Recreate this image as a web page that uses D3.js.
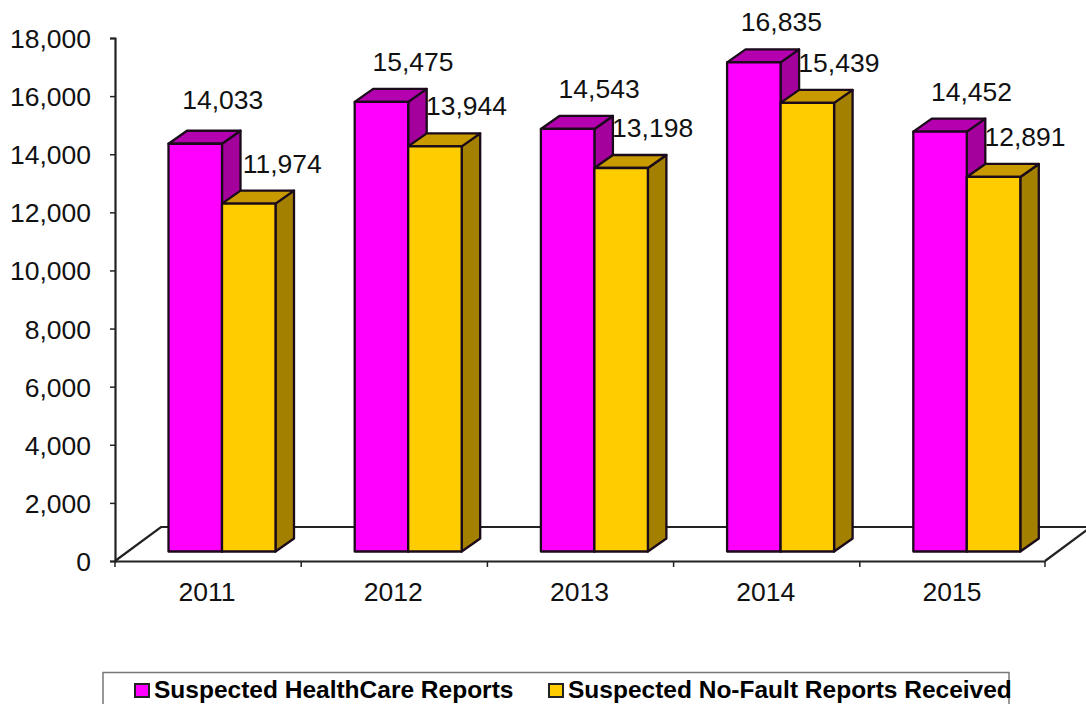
<!DOCTYPE html>
<html>
<head>
<meta charset="utf-8">
<script src="https://cdn.jsdelivr.net/npm/d3@7"></script>
<style>
    html, body { margin: 0; padding: 0; background: #fff; overflow: hidden; }
    text { font-family: "Liberation Sans", Arial, sans-serif; fill: #111; }
</style>
</head>
<body>
<svg id="chart" width="1086" height="704"></svg>
<script>
const years = ["2011", "2012", "2013", "2014", "2015"];
const healthCare = [14033, 15475, 14543, 16835, 14452];
const noFault = [11974, 13944, 13198, 15439, 12891];
const yTicks = [0, 2000, 4000, 6000, 8000, 10000, 12000, 14000, 16000, 18000];
const seriesNames = ["Suspected HealthCare Reports", "Suspected No-Fault Reports Received"];

const svg = d3.select("#chart");

//** SCALES *****************************************
const MARGIN = { LEFT: 115, RIGHT: 1045, TOP: 38, BOTTOM: 561 };
const DEPTH_X = 18.5, DEPTH_Y = 13;   // 3d offset of the bars
const FLOOR_X = 46, FLOOR_Y = 34;     // 3d offset of the floor
const BAR_INSET = 53.5, BAR_W = 53.5;
const FONT_SIZE = "26.5px";

const xScale = d3.scaleBand().domain(years).range([MARGIN.LEFT, MARGIN.RIGHT + 1]);
const yScale = d3.scaleLinear().domain([0, 18000]).range([MARGIN.BOTTOM, MARGIN.TOP]);

const colours = [
    { front: "#ff00ff", top: "#b400ae", side: "#a4009c" },
    { front: "#ffcc00", top: "#c89a00", side: "#a38000" }
];

// a few data labels were moved by hand in the original: [dx, dy] by "series-year index"
const labelShift = { "0-0": [-4, -4], "0-3": [-4, 0], "1-0": [2, 0] };

//** FLOOR *****************************************
svg.append("path")
    .attr("d", `M${MARGIN.LEFT},${MARGIN.BOTTOM} L${MARGIN.LEFT + FLOOR_X},${MARGIN.BOTTOM - FLOOR_Y} L1090,${MARGIN.BOTTOM - FLOOR_Y}`)
    .attr("fill", "none").attr("stroke", "#222").attr("stroke-width", 2.2);
svg.append("path")
    .attr("d", `M${MARGIN.RIGHT},${MARGIN.BOTTOM} L${MARGIN.RIGHT + FLOOR_X},${MARGIN.BOTTOM - FLOOR_Y}`)
    .attr("fill", "none").attr("stroke", "#222").attr("stroke-width", 2.2);

//** AXES *****************************************
const yAxis = d3.axisLeft(yScale).tickValues(yTicks).tickSize(5).tickPadding(19)
    .tickFormat(d3.format(","));
const yG = svg.append("g")
    .attr("transform", `translate(${MARGIN.LEFT},0)`)
    .call(yAxis);
yG.selectAll(".tick text").attr("x", -24).attr("y", 1);

const xAxis = d3.axisBottom(xScale).tickSize(0).tickPadding(21);
const xG = svg.append("g")
    .attr("transform", `translate(-1,${MARGIN.BOTTOM})`)
    .call(xAxis);

// tick marks sit between the categories
xG.selectAll(".edge")
    .data(years.concat("end"))
    .enter().append("line")
    .attr("class", "edge")
    .attr("x1", (d, i) => (i < years.length ? xScale(d) : MARGIN.RIGHT) + 1)
    .attr("x2", (d, i) => (i < years.length ? xScale(d) : MARGIN.RIGHT) + 1)
    .attr("y1", 0).attr("y2", 6)
    .attr("stroke", "#222").attr("stroke-width", 1.5);

[yG, xG].forEach(g => {
    g.selectAll("text").style("font-size", FONT_SIZE);
    g.select(".domain").attr("stroke", "#222").attr("stroke-width", 2.2);
});
yG.selectAll(".tick line").attr("stroke", "#222").attr("stroke-width", 1.5);

//** BARS *****************************************
const base = yScale(0) - 9.5;
const barHeight = v => yScale(0) - yScale(v);

function drawBar(x, v, c) {
    const top = base - barHeight(v);
    const g = svg.append("g")
        .attr("stroke", "#1a0a1a").attr("stroke-width", 2.3).attr("stroke-linejoin", "round");
    g.append("path").attr("fill", c.side)
        .attr("d", `M${x + BAR_W},${top} l${DEPTH_X},${-DEPTH_Y} V${base - DEPTH_Y} l${-DEPTH_X},${DEPTH_Y} Z`);
    g.append("path").attr("fill", c.top)
        .attr("d", `M${x},${top} l${DEPTH_X},${-DEPTH_Y} h${BAR_W} l${-DEPTH_X},${DEPTH_Y} Z`);
    g.append("rect").attr("fill", c.front)
        .attr("x", x).attr("y", top).attr("width", BAR_W).attr("height", base - top);
}

years.forEach((year, i) => {
    const x0 = xScale(year) + BAR_INSET;
    drawBar(x0, healthCare[i], colours[0]);
    drawBar(x0 + BAR_W, noFault[i], colours[1]);
});

//** DATA LABELS *****************************************
const labelFormat = d3.format(",");
years.forEach((year, i) => {
    const x0 = xScale(year) + BAR_INSET;
    [healthCare[i], noFault[i]].forEach((v, s) => {
        const shift = labelShift[s + "-" + i] || [0, 0];
        svg.append("text")
            .attr("x", x0 + BAR_W * s + BAR_W / 2 + 31.5 + shift[0])
            .attr("y", base - barHeight(v) - 31 + shift[1])
            .attr("text-anchor", "middle")
            .style("font-size", FONT_SIZE)
            .text(labelFormat(v));
    });
});

//** LEGEND *****************************************
svg.append("rect")
    .attr("x", 103).attr("y", 672.5).attr("width", 906).attr("height", 40)
    .attr("fill", "#fff").attr("stroke", "#777").attr("stroke-width", 1.5);

const legendX = [135, 549];
seriesNames.forEach((name, i) => {
    svg.append("rect")
        .attr("x", legendX[i]).attr("y", 684).attr("width", 14).attr("height", 13)
        .attr("fill", colours[i].front).attr("stroke", "#222").attr("stroke-width", 2);
    svg.append("text")
        .attr("x", legendX[i] + 19).attr("y", 698)
        .style("font-size", "24.5px").style("font-weight", "bold").style("fill", "#000")
        .text(name);
});
</script>
</body>
</html>
